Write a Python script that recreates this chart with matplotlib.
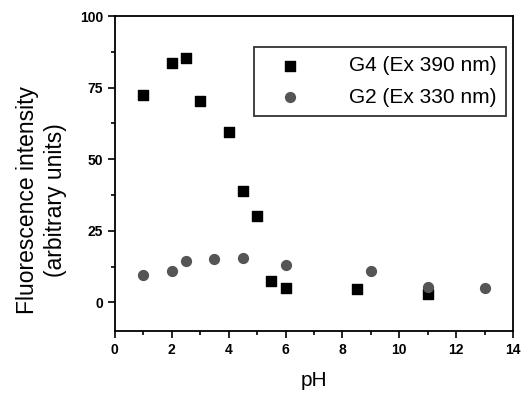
import matplotlib
matplotlib.use("Agg")
import matplotlib.pyplot as plt
from matplotlib.ticker import MultipleLocator

plt.rcParams['font.family'] = ['Liberation Sans', 'DejaVu Sans']

# G4 (Ex 390 nm)
ph_g4 = [1, 2, 2.5, 3, 4, 4.5, 5, 5.5, 6, 8.5, 11]
int_g4 = [72.5, 83.5, 85.5, 70.5, 59.5, 39, 30, 7.5, 5, 4.5, 3]

# G2 (Ex 330 nm)
ph_g2 = [1, 2, 2.5, 3.5, 4.5, 6, 9, 11, 13]
int_g2 = [9.5, 11, 14.5, 15, 15.5, 13, 11, 5.5, 5]

fig = plt.figure(figsize=(5.29, 3.93), dpi=100)
ax = fig.add_axes([0.217, 0.158, 0.753, 0.801])

ax.scatter(ph_g4, int_g4, marker='s', s=42, color='black', label='G4 (Ex 390 nm)')
ax.scatter(ph_g2, int_g2, marker='o', s=50, color='#555555', label='G2 (Ex 330 nm)')

ax.set_xlim(0, 14)
ax.set_ylim(-10, 100)
ax.xaxis.set_major_locator(MultipleLocator(2))
ax.xaxis.set_minor_locator(MultipleLocator(1))
ax.yaxis.set_major_locator(MultipleLocator(25))
ax.yaxis.set_minor_locator(MultipleLocator(12.5))
ax.tick_params(which='both', direction='out', labelsize=10, width=1.2)
ax.tick_params(which='major', length=5)
ax.tick_params(which='minor', length=3)
for lab in ax.get_xticklabels() + ax.get_yticklabels():
    lab.set_fontweight('bold')
for s in ax.spines.values():
    s.set_linewidth(1.3)

ax.set_xlabel('pH', fontsize=15, labelpad=10)
ax.set_ylabel('Fluorescence intensity\n(arbitrary units)', fontsize=16.5, linespacing=1.3)
ax.yaxis.set_label_coords(-0.12, 0.415)

leg = ax.legend(loc='upper right', bbox_to_anchor=(0.982, 0.903),
                prop={'size': 15},
                frameon=True, fancybox=False, edgecolor='black', borderpad=0.45,
                handlelength=2.5, handletextpad=1.6, labelspacing=0.6, scatterpoints=1,
                borderaxespad=0)
leg.get_frame().set_linewidth(1.3)

fig.savefig('out.png', dpi=100)
